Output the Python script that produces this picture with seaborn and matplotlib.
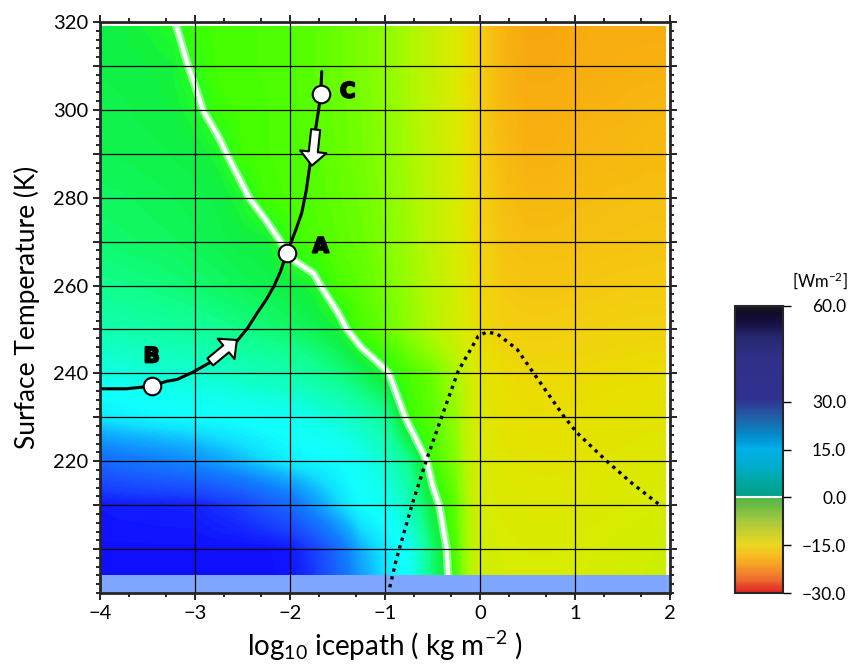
import numpy as np
import matplotlib
matplotlib.use("Agg")
import matplotlib.pyplot as plt
import matplotlib.patheffects as pe
import seaborn as sns
from matplotlib.colors import LinearSegmentedColormap, Normalize
from matplotlib.cm import ScalarMappable

# grid of the forcing field (W m-2)
icepath_log = [-4.0, -3.75, -3.5, -3.25, -3.0, -2.75, -2.5, -2.25, -2.0, -1.75, -1.5, -1.25,
               -1.0, -0.75, -0.5, -0.25, 0.0, 0.25, 0.5, 0.75, 1.0, 1.25, 1.5, 1.75, 2.0]
surface_temp = [320, 310, 300, 290, 280, 270, 260, 250, 240, 230, 220, 210, 200, 190]

f320 = [1.5, 1.2, 0.8, 0.2, -1.0, -1.3, -1.4, -1.6, -1.8, -2.2, -2.8, -3.4, -4.2, -5.6, -7.6, -10.2, -14.0, -17.5, -20.0, -20.0, -19.5, -19.0, -18.8, -18.8, -18.8]
f310 = [1.6, 1.5, 1.3, 1.0, -0.4, -1.3, -1.4, -1.6, -1.8, -2.2, -2.8, -3.4, -4.2, -5.6, -7.6, -10.2, -14.0, -17.5, -19.5, -19.5, -19.0, -18.5, -18.2, -18.0, -18.0]
f300 = [1.8, 1.7, 1.5, 1.3, 0.5, -1.0, -1.3, -1.5, -1.7, -2.1, -2.7, -3.3, -4.1, -5.5, -7.5, -10.1, -14.0, -17.0, -18.5, -18.5, -18.0, -17.7, -17.5, -17.2, -17.0]
f290 = [2.0, 1.9, 1.8, 1.6, 1.4, 0.6, -1.2, -1.5, -1.7, -2.0, -2.6, -3.2, -4.0, -5.4, -7.4, -10.0, -13.8, -16.5, -18.0, -18.0, -17.5, -17.0, -17.0, -16.5, -16.5]
f280 = [2.5, 2.4, 2.2, 2.0, 1.8, 1.5, 0.5, -1.3, -1.6, -1.9, -2.5, -3.0, -3.8, -5.2, -7.2, -9.8, -13.6, -16.0, -17.0, -17.0, -16.5, -16.3, -16.0, -16.0, -16.0]
f270 = [3.0, 2.8, 2.6, 2.4, 2.1, 1.8, 1.4, 1.2, -0.8, -1.6, -2.2, -2.8, -3.6, -5.0, -7.0, -9.6, -13.4, -15.5, -16.0, -16.0, -15.8, -15.6, -15.5, -15.3, -15.2]
f260 = [4.0, 3.8, 3.6, 3.3, 3.0, 2.6, 2.2, 1.8, 1.4, 0.6, -1.5, -2.3, -3.3, -4.7, -6.7, -9.3, -13.0, -14.8, -15.2, -15.2, -15.0, -14.8, -14.6, -14.5, -14.5]
f250 = [5.5, 5.3, 5.0, 4.8, 4.5, 4.1, 3.7, 3.2, 2.7, 2.0, 1.0, -1.5, -2.7, -4.2, -6.2, -8.9, -12.5, -13.8, -14.2, -14.2, -14.0, -13.8, -13.6, -13.5, -13.5]
f240 = [8.0, 7.8, 7.5, 7.2, 7.0, 6.6, 6.2, 5.8, 5.4, 4.6, 3.6, 2.2, 0.3, -1.5, -2.8, -5.5, -11.0, -12.3, -12.8, -12.8, -12.7, -12.5, -12.3, -12.2, -12.0]
f230 = [11.5, 11.0, 10.6, 10.3, 10.0, 9.8, 9.6, 9.2, 9.0, 8.0, 7.2, 5.8, 4.5, -0.8, -2.2, -4.5, -10.5, -11.5, -12.0, -12.0, -11.8, -11.7, -11.5, -11.3, -11.2]
f220 = [19.0, 18.2, 17.5, 16.8, 16.0, 14.8, 13.5, 12.2, 11.0, 10.5, 10.0, 8.8, 7.0, 4.0, -1.2, -3.8, -10.0, -10.8, -11.2, -11.3, -11.2, -11.0, -10.8, -10.6, -10.5]
f210 = [25.5, 25.3, 25.2, 25.1, 25.0, 24.0, 23.0, 21.0, 19.0, 15.5, 12.5, 10.0, 9.0, 6.0, 1.0, -2.5, -9.5, -10.2, -10.5, -10.5, -10.4, -10.2, -10.0, -9.8, -9.6]
f200 = [26.0, 26.0, 26.0, 26.0, 26.0, 26.0, 26.0, 26.0, 25.5, 23.0, 19.0, 14.0, 11.5, 9.0, 3.0, -2.0, -9.0, -9.7, -10.0, -10.0, -9.8, -9.6, -9.3, -9.0, -8.8]
f190 = [26.0, 26.0, 26.0, 26.0, 26.0, 26.0, 26.0, 26.0, 26.0, 24.0, 20.0, 15.5, 12.0, 9.5, 3.5, -1.5, -8.8, -9.5, -9.8, -9.8, -9.6, -9.4, -9.1, -8.8, -8.6]

# trajectory B -> A -> C
path_x = [-4.0, -3.72, -3.456, -3.30, -3.19, -3.02, -2.84, -2.70, -2.56, -2.45, -2.35, -2.25,
          -2.17, -2.10, -2.035, -1.98, -1.93, -1.877, -1.83, -1.79, -1.737, -1.70, -1.677, -1.666]
path_t = [236.5, 236.5, 237.1, 238.2, 238.6, 240.3, 242.5, 244.8, 247.3, 250.2, 253.6, 256.8,
          259.8, 263.2, 267.4, 270.3, 273.2, 276.5, 281.5, 287.5, 294.8, 299.8, 303.6, 308.7]

# dotted curve
dot_x = [-0.95, -0.88, -0.72, -0.56, -0.40, -0.23, -0.018, 0.07, 0.18, 0.39, 0.55, 0.88, 1.02, 1.33, 1.61, 1.895]
dot_t = [191.3, 197.7, 209.8, 220.5, 230.3, 240.5, 248.5, 249.4, 249.0, 245.5, 240.5, 230.3, 226.5, 220.1, 214.8, 210.0]

point_names = ["B", "A", "C"]
point_x = [-3.456, -2.035, -1.677]
point_t = [237.1, 267.4, 303.6]

cbar_ticks = [-30, -15, 0, 15, 30, 60]

heat_nodes = [(-30, '#e82010'), (-25, '#f06010'), (-20, '#f8a810'), (-17, '#f8b810'), (-14, '#f4d010'),
              (-12, '#e8e000'), (-10, '#d8ec00'), (-8, '#c8f000'), (-6, '#b0f800'), (-4, '#88ff00'),
              (-2.5, '#60ff00'), (-1.2, '#40ff00'), (0, '#28ff20'), (1.2, '#10f040'), (2.5, '#10f860'),
              (4, '#10ff90'), (5.5, '#10ffb0'), (7, '#10ffd0'), (8.5, '#10fff0'), (10, '#10ffff'),
              (12, '#10e0ff'), (14, '#10b0ff'), (17, '#1080ff'), (20, '#1860ff'), (23, '#1840ff'),
              (26, '#1010ff'), (40, '#0808b0'), (60, '#000030')]
bar_nodes = [(-30, '#e02020'), (-26, '#ee6a30'), (-22, '#f59a28'), (-19, '#f8b820'), (-15, '#ecd820'),
             (-11, '#c8d030'), (-7, '#a0c840'), (-3, '#70bc44'), (-0.2, '#50b848'), (0.2, '#00a088'),
             (5, '#00a8a0'), (9, '#00acc8'), (15, '#00b0e8'), (19, '#0090d0'), (23, '#1870b0'),
             (27, '#2850a0'), (31, '#303090'), (44, '#30308a'), (50, '#282870'), (55, '#151040'),
             (58, '#100a28'), (60, '#201820')]


def make_cmap(name, nodes, vmin=-30, vmax=60):
    return LinearSegmentedColormap.from_list(
        name, [((v - vmin) / (vmax - vmin), c) for v, c in nodes])


heat_cmap = make_cmap("heat", heat_nodes)
bar_cmap = make_cmap("bar", bar_nodes)
norm = Normalize(-30, 60)

sns.set_style("ticks")
plt.rcParams['font.family'] = ['Lato', 'DejaVu Sans']
plt.rcParams['mathtext.default'] = 'regular'
for key in ['text.color', 'axes.labelcolor', 'xtick.color', 'ytick.color']:
    plt.rcParams[key] = 'black'

fig = plt.figure(figsize=(8.52, 6.68), dpi=100)
ax = fig.add_axes([100 / 852, 1 - 593 / 668, 570 / 852, 571 / 668])
cax = fig.add_axes([735 / 852, 1 - 593 / 668, 48 / 852, 287 / 668])

field = np.array([f320, f310, f300, f290, f280, f270, f260, f250, f240, f230, f220, f210, f200, f190])

ax.imshow(field, extent=[-4.125, 2.125, 185, 325], origin='upper', cmap=heat_cmap, norm=norm,
          interpolation='bilinear', interpolation_stage='data', aspect='auto', zorder=0)

# zero line
temps_up = np.array(surface_temp)[::-1]
ax.contour(icepath_log, temps_up, field[::-1], levels=[0], colors='#c8ffd8', linewidths=6,
           alpha=0.55, zorder=0.7)
ax.contour(icepath_log, temps_up, field[::-1], levels=[0], colors='white', linewidths=3,
           zorder=0.8)

ax.axvspan(1.96, 2.0, color='white', lw=0, zorder=1)
ax.axhspan(319.2, 320, color='white', lw=0, zorder=1)
ax.axhspan(190, 194.1, color='#7fa6ff', lw=0, zorder=1.1)

ax.set_xlim(-4, 2)
ax.set_ylim(190, 320)

ax.set_axisbelow(False)
ax.grid(True, which='major', color='black', linewidth=0.9)

sns.lineplot(x=path_x, y=path_t, sort=False, color='black', linewidth=2.2, ax=ax, zorder=3)
sns.lineplot(x=dot_x, y=dot_t, sort=False, color='black', linewidth=2.4,
             linestyle=(0, (1, 1.4)), ax=ax, zorder=3)

arrow_style = 'simple,head_length=1.0,head_width=1.9,tail_width=0.65'
ax.annotate('', xy=(-2.56, 247.6), xytext=(-2.84, 242.6),
            arrowprops=dict(arrowstyle=arrow_style, fc='white', ec='black', lw=1.5,
                            mutation_scale=10, shrinkA=0, shrinkB=0), zorder=4)
ax.annotate('', xy=(-1.77, 287.3), xytext=(-1.73, 295.5),
            arrowprops=dict(arrowstyle=arrow_style, fc='white', ec='black', lw=1.5,
                            mutation_scale=10, shrinkA=0, shrinkB=0), zorder=4)

sns.scatterplot(x=point_x, y=point_t, s=160, color='white', edgecolor='black', linewidth=1.5,
                ax=ax, zorder=5)

label_pos = {"B": (-3.456, 243.9), "A": (-1.677, 268.9), "C": (-1.393, 304.2)}
for name in point_names:
    lx, ly = label_pos[name]
    ax.text(lx, ly, name, ha='center', va='center', fontsize=15, fontweight='bold',
            family='DejaVu Sans', color='black', zorder=6,
            path_effects=[pe.withStroke(linewidth=1.6, foreground='black')])

ax.set_xticks(range(-4, 3))
ax.set_xticklabels(['\u22124', '\u22123', '\u22122', '\u22121', '0', '1', '2'])
ax.set_xticks([k + np.log10(m) for k in range(-4, 2) for m in (2, 5)], minor=True)
ax.set_yticks(range(200, 321, 10))
ax.set_yticklabels([str(t) if (t % 20 == 0 and t >= 220) else '' for t in range(200, 321, 10)])
ax.set_yticks(range(190, 321, 2), minor=True)
ax.tick_params(which='both', direction='out', top=True, right=True, width=1.2,
               labelsize=14.5, color='black')
ax.tick_params(which='major', length=5)
ax.tick_params(which='minor', length=3)
for s in ax.spines.values():
    s.set_linewidth(2.0)
    s.set_zorder(7)

ax.set_ylabel('Surface Temperature (K)', fontsize=19, labelpad=9)
ax.set_xlabel(r'log$_{10}$ icepath ( kg m$^{-2}$ )', fontsize=20, labelpad=5)

cb = fig.colorbar(ScalarMappable(norm=norm, cmap=bar_cmap), cax=cax, ticks=cbar_ticks)
cb.ax.set_yticklabels(['\u2212%.1f' % abs(t) if t < 0 else '%.1f' % t for t in cbar_ticks])
cb.outline.set_linewidth(1.5)
cax.tick_params(direction='out', length=6, width=1.0, labelsize=12.5, pad=39.5)
for lab in cax.get_yticklabels():
    lab.set_ha('right')
cax.axhline(0, color='white', lw=1.5)
fig.text(820 / 852, 1 - 281 / 668, r'[Wm$^{-2}$]', ha='center', va='center', fontsize=12)

fig.savefig('out.png', dpi=100)
